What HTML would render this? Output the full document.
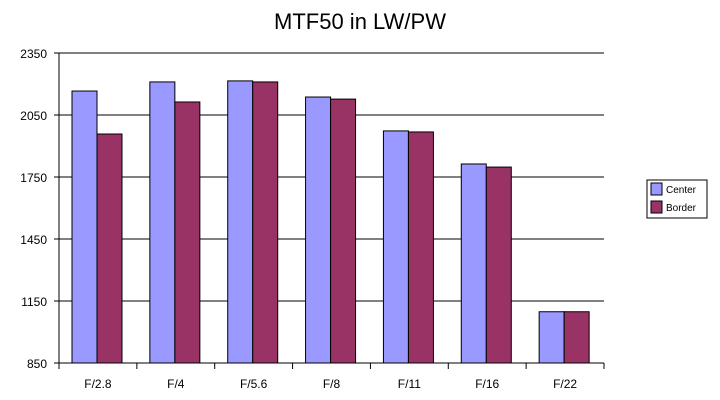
<!DOCTYPE html>
<html><head><meta charset="utf-8"><style>
body{margin:0;background:#fff;width:720px;height:400px;overflow:hidden}
svg{display:block;font-family:"Liberation Sans",Arial,sans-serif}
</style></head><body>
<svg id="chart" width="720" height="400"></svg>
<script>
const categories=["F/2.8","F/4","F/5.6","F/8","F/11","F/16","F/22"];
const centerValues=[2166,2210,2215,2137,1973,1813,1098];
const borderValues=[1958,2113,2210,2127,1968,1798,1098];
const yTicks=[850,1150,1450,1750,2050,2350];
const NS="http://www.w3.org/2000/svg";
const svg=document.getElementById('chart');
const L=59,R=604,T=53,B=363,yMin=850,yMax=2350;
const y=v=>B-(v-yMin)/(yMax-yMin)*(B-T);
const cw=(R-L)/categories.length;
const x=i=>L+i*cw;
function mk(tag,attrs,parent){const e=document.createElementNS(NS,tag);for(const k in attrs)e.setAttribute(k,attrs[k]);(parent||svg).appendChild(e);return e;}
let t=mk('text',{x:360,y:29,'text-anchor':'middle','font-size':22,fill:'#000'});t.textContent='MTF50 in LW/PW';


yTicks.forEach(v=>{
  const g=mk('line',{x1:L-5,x2:R,y1:y(v),y2:y(v),stroke:'#000','stroke-width':1});
  
  
  const l=mk('text',{x:L-12,y:y(v)+5,'text-anchor':'end','font-size':12,fill:'#000'});l.textContent=v;
  
  
});
const ax=mk('line',{x1:L,x2:L,y1:T,y2:B+6,stroke:'#000'});


for(let i=0;i<=categories.length;i++){
  const tk=mk('line',{x1:x(i),x2:x(i),y1:B,y2:B+6,stroke:'#000'});
  
  
}
const bw=25,off=13;
categories.forEach((c,i)=>{
  const r1=mk('rect',{x:x(i)+off,y:y(centerValues[i]),width:bw,height:B-y(centerValues[i]),fill:'#9999ff',stroke:'#000','stroke-width':1});
  
  
  const r2=mk('rect',{x:x(i)+off+bw,y:y(borderValues[i]),width:bw,height:B-y(borderValues[i]),fill:'#993366',stroke:'#000','stroke-width':1});
  
  
  const l=mk('text',{x:x(i)+cw/2,y:B+25,'text-anchor':'middle','font-size':12,fill:'#000'});l.textContent=c;
  
  
});
const axb=mk('line',{x1:L,x2:R,y1:B,y2:B,stroke:'#000'});


const lg=mk('g',{});


mk('rect',{x:647,y:180,width:60,height:38,fill:'#fff',stroke:'#000','stroke-width':1},lg);
[['Center','#9999ff',183],['Border','#993366',201]].forEach(([n,c,yy])=>{
  const e=mk('g',{},lg);
  
  
  mk('rect',{x:651,y:yy,width:11,height:12,fill:c,stroke:'#000'},e);
  const tx=mk('text',{x:666,y:yy+10,'font-size':10,fill:'#000'},e);tx.textContent=n;
});
</script>
</body></html>
